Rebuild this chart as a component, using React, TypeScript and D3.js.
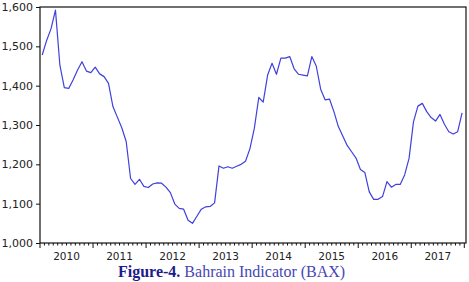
import { useEffect, useRef } from "react"
import * as d3 from "d3"

// monthly values, Jan 2010 .. Dec 2017
const bax = [
  1478, 1515, 1545, 1592, 1452, 1395, 1393, 1415, 1440, 1461, 1437, 1433,
  1447, 1430, 1423, 1406, 1347, 1320, 1293, 1258, 1164, 1149, 1162, 1144,
  1141, 1150, 1153, 1152, 1142, 1128, 1099, 1088, 1086, 1058, 1050, 1068,
  1086, 1092, 1093, 1102, 1196, 1190, 1194, 1190, 1195, 1200, 1208, 1240,
  1292, 1370, 1358, 1427, 1457, 1429, 1470, 1470, 1474, 1443, 1429, 1427,
  1425, 1474, 1450, 1391, 1364, 1366, 1334, 1296, 1272, 1248, 1232, 1216,
  1187, 1179, 1130, 1111, 1111, 1118, 1156, 1142, 1149, 1149, 1173, 1215,
  1308, 1348, 1355, 1334, 1319, 1310, 1327, 1302, 1283, 1277, 1283, 1331,
]

const years = ["2010", "2011", "2012", "2013", "2014", "2015", "2016", "2017"]
const yTicks = [1000, 1100, 1200, 1300, 1400, 1500, 1600]

export default function App() {
  const svgRef = useRef<SVGSVGElement>(null)

  useEffect(() => {
    if (!svgRef.current) return
    const svg = d3.select(svgRef.current)
    svg.selectAll("*").remove()

    const left = 40
    const right = 466
    const top = 7
    const bottom = 243

    const x = d3.scaleLinear().domain([-0.5, bax.length - 0.5]).range([left, 464.3])
    const y = d3.scaleLinear().domain([1000, 1600]).range([bottom, top])

    // frame
    svg
      .append("rect")
      .attr("x", left)
      .attr("y", top)
      .attr("width", right - left)
      .attr("height", bottom - top)
      .attr("fill", "none")
      .attr("stroke", "#111")
      .attr("stroke-width", 1.2)

    // y axis
    const yAxis = svg
      .append("g")
      .attr("transform", `translate(${left},0)`)
      .call(d3.axisLeft(y).tickValues(yTicks).tickSize(4).tickPadding(3).tickFormat(d3.format(",")))
    yAxis.select(".domain").remove()
    yAxis.selectAll("line").attr("stroke", "#111")
    yAxis
      .selectAll("text")
      .attr("fill", "#222")
      .style("font-family", "DejaVu Sans")
      .style("font-size", "11px")

    // x axis: month ticks, year ticks, year labels
    const monthEdges = d3.range(bax.length + 1).map((i) => i - 0.5)
    const xg = svg.append("g")
    xg.selectAll("line.m")
      .data(monthEdges)
      .enter()
      .append("line")
      .attr("x1", (d) => x(d))
      .attr("x2", (d) => x(d))
      .attr("y1", bottom)
      .attr("y2", (d) => ((d + 0.5) % 12 === 0 ? bottom + 5 : bottom + 2.5))
      .attr("stroke", "#111")
      .attr("stroke-width", 1)

    xg.selectAll("text")
      .data(years)
      .enter()
      .append("text")
      .attr("x", (_d, i) => x(i * 12 + 5.5))
      .attr("y", 260)
      .attr("text-anchor", "middle")
      .attr("fill", "#222")
      .style("font-family", "DejaVu Sans")
      .style("font-size", "10.5px")
      .text((d) => d)

    // series
    const line = d3
      .line<number>()
      .x((_d, i) => x(i))
      .y((d) => y(d))
    svg
      .append("path")
      .datum(bax)
      .attr("d", line)
      .attr("fill", "none")
      .attr("stroke", "#4040dc")
      .attr("stroke-width", 1.2)
      .attr("stroke-linejoin", "round")

    // caption
    const cap = svg
      .append("text")
      .attr("x", 118)
      .attr("y", 277)
      .style("font-family", "Liberation Serif")
      .style("font-size", "16px")
    cap.append("tspan").attr("fill", "#1c1c8a").attr("font-weight", "bold").text("Figure-4.")
    cap.append("tspan").attr("fill", "#4646b4").text(" Bahrain Indicator (BAX)")
  }, [])

  return (
    <svg
      ref={svgRef}
      width={469}
      height={282}
      style={{ position: "absolute", left: 0, top: 0, background: "#fff" }}
    />
  )
}
